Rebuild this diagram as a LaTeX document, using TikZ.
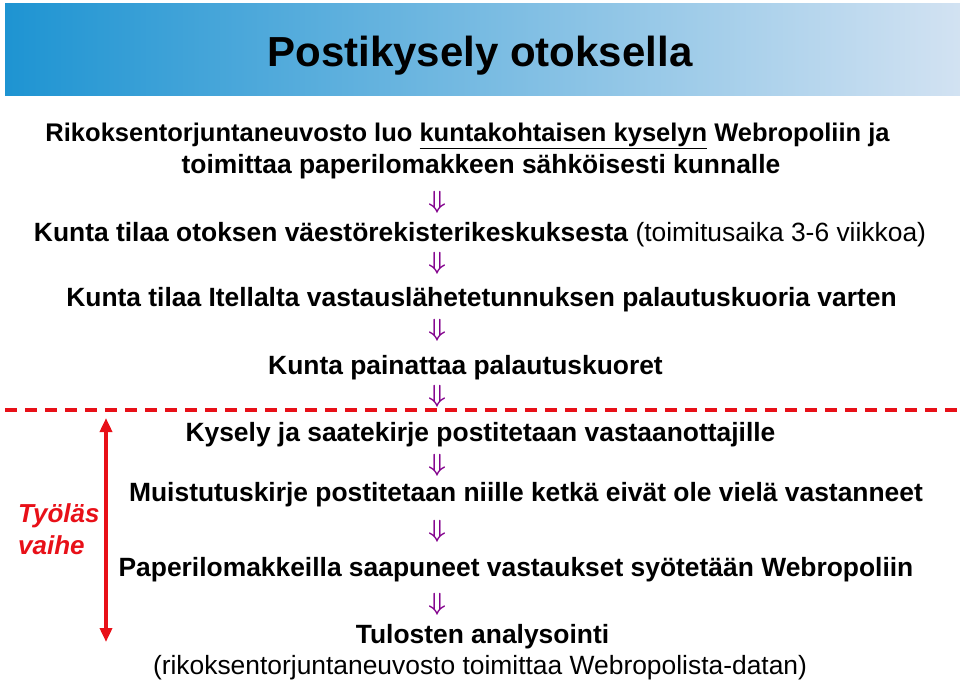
\documentclass[tikz,border=0pt]{standalone}
\usepackage{fontspec}
\setmainfont{Liberation Sans}
\usetikzlibrary{arrows.meta}

\definecolor{titleblue}{RGB}{30,148,210}
\definecolor{titlepale}{RGB}{210,226,242}
\definecolor{arrowpurple}{RGB}{130,0,140}
\definecolor{phasered}{RGB}{232,16,24}

\begin{document}
\begin{tikzpicture}[x=1pt,y=-1pt,
  txt/.style={anchor=base, inner sep=0pt, font=\bfseries\fontsize{26.4}{30}\selectfont},
  darr/.style={anchor=base, inner sep=0pt, text height=8pt, text depth=0pt, text=arrowpurple, font=\boldmath\fontsize{25}{25}\selectfont}]

\useasboundingbox (0,0) rectangle (960,683);

% title band
\shade[left color=titleblue, right color=titlepale] (5,3) rectangle (960,95);
\node[anchor=base, inner sep=0pt, font=\bfseries\fontsize{42}{48}\selectfont] (title) at (480,66.5) {Postikysely otoksella};

% steps
\node[txt, font=\bfseries\fontsize{25.5}{30}\selectfont] (s1) at (467.5,141.5) {Rikoksentorjuntaneuvosto luo \underline{kuntakohtaisen kyselyn} Webropoliin ja};
\node[txt] (s2) at (481,173) {toimittaa paperilomakkeen sähköisesti kunnalle};
\node[txt] (s3) at (480,241) {Kunta tilaa otoksen väestörekisterikeskuksesta \mdseries(toimitusaika 3-6 viikkoa)};
\node[txt] (s4) at (481.5,306) {Kunta tilaa Itellalta vastauslähetetunnuksen palautuskuoria varten};
\node[txt] (s5) at (465.5,374) {Kunta painattaa palautuskuoret};
\node[txt] (s6) at (480.5,441.5) {Kysely ja saatekirje postitetaan vastaanottajille};
\node[txt] (s7) at (526,501) {Muistutuskirje postitetaan niille ketkä eivät ole vielä vastanneet};
\node[txt] (s8) at (516,576) {Paperilomakkeilla saapuneet vastaukset syötetään Webropoliin};
\node[txt] (s9) at (482.5,643) {Tulosten analysointi};
\node[txt, font=\fontsize{26.4}{30}\selectfont] (s10) at (480,674) {(rikoksentorjuntaneuvosto toimittaa Webropolista-datan)};

% arrows between steps
\foreach \y [count=\i] in {202,263,330,396,465,531,604}
  \node[darr] (a\i) at (437,\y+6) {$\Downarrow$};

% laborious phase
\draw[phasered, line width=3.5pt, dash pattern=on 12pt off 8pt] (5,410) -- (960,410);
\coordinate (ptop) at (106,418);
\coordinate (pbot) at (106,642);
\draw[phasered, line width=3.5pt, {Triangle[length=14pt,width=12pt]}-{Triangle[length=14pt,width=12pt]}] (ptop) -- (pbot);
\node[anchor=west, inner sep=0pt, align=left, text=phasered, font=\bfseries\itshape\fontsize{26}{32}\selectfont] (phase) at (18,529) {Työläs\\vaihe};

\end{tikzpicture}
\end{document}
